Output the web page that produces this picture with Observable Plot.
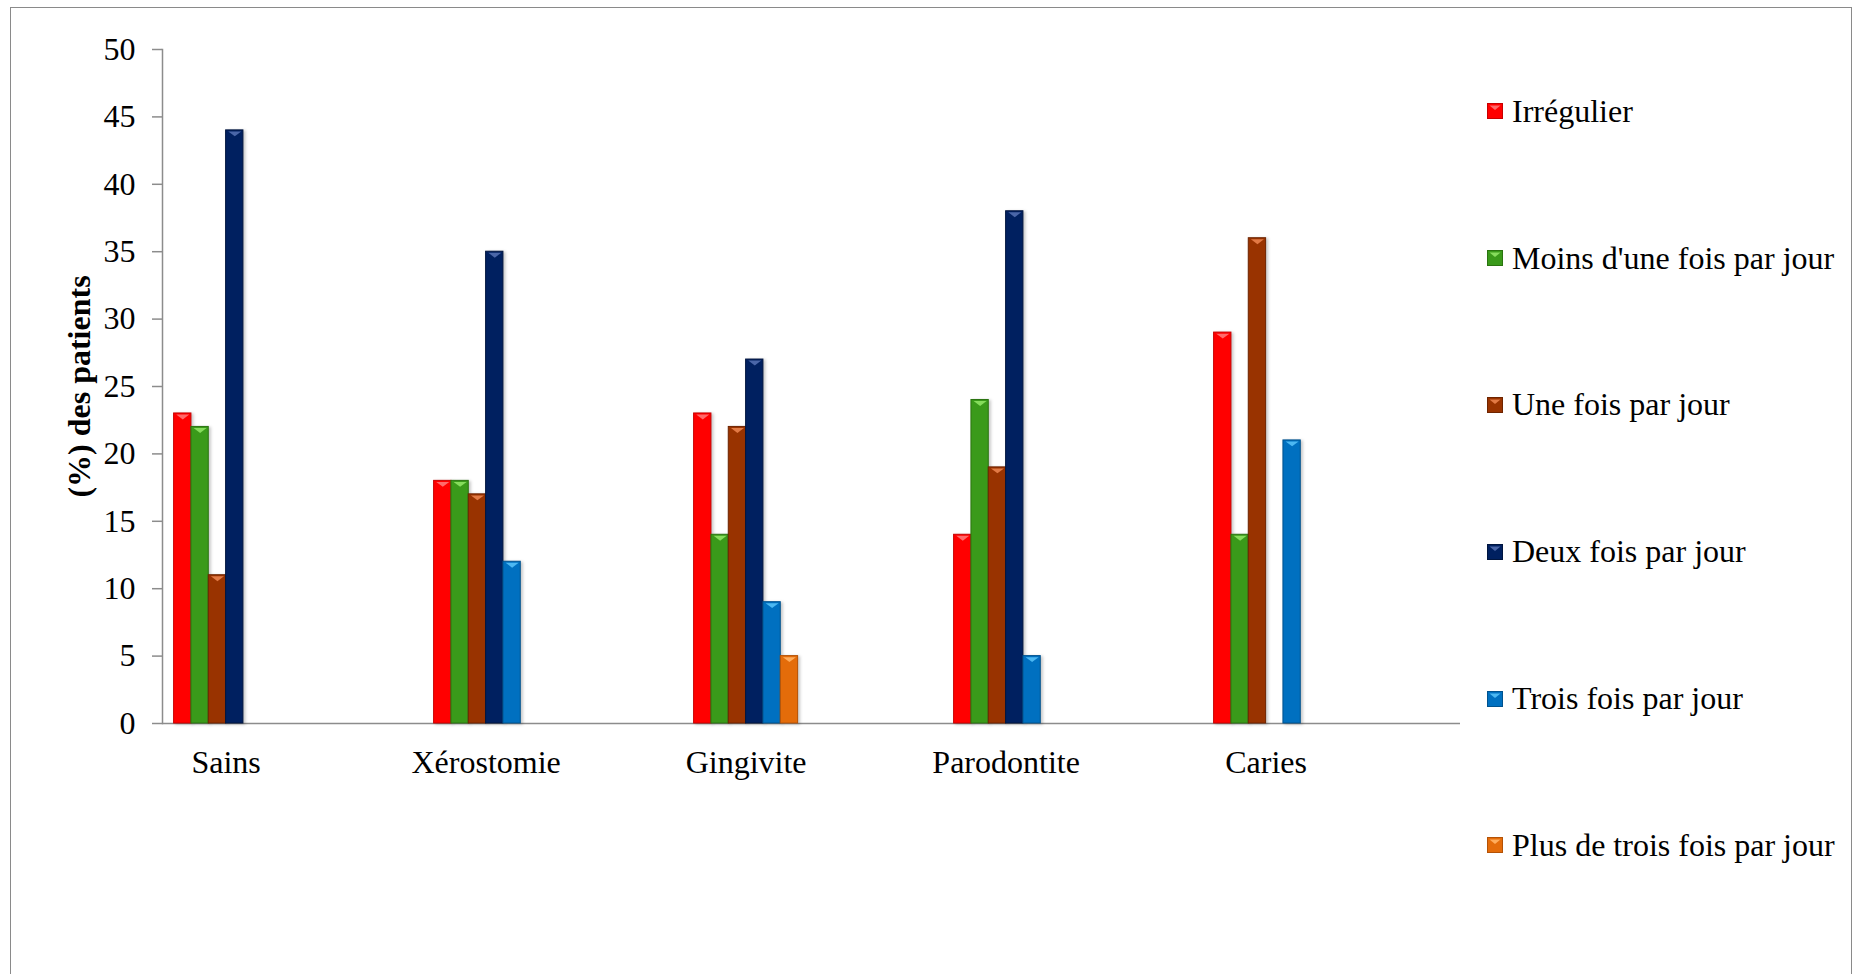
<!DOCTYPE html>
<html lang="fr">
<head>
<meta charset="utf-8">
<title>Fréquence de brossage selon l'état bucco-dentaire</title>
<script src="https://cdn.jsdelivr.net/npm/d3@7"></script>
<script src="https://cdn.jsdelivr.net/npm/@observablehq/plot@0.6"></script>
<style>
  html, body { margin: 0; padding: 0; background: #fff; width: 1852px; height: 974px; overflow: hidden; }
  body { position: relative; font-family: "Liberation Serif", "Times New Roman", serif; }
  .chart-border {
    position: absolute; left: 10px; top: 7px; width: 1842px; height: 1000px;
    box-sizing: border-box; border: 1.5px solid #8a8a8a;
  }
  #chart { position: absolute; left: 0; top: 0; }
  #chart g[aria-label="bar"] { filter: drop-shadow(2px 1px 1.5px rgba(0,0,0,0.22)); }
  .legend { position: absolute; left: 1487px; top: 38px; }
  .legend-item { height: 146.8px; display: flex; align-items: center; font-size: 32px; color: #000; white-space: nowrap; }
  .legend-item svg { margin-right: 9px; flex: none; }
</style>
</head>
<body>
<div class="chart-border"></div>
<div id="chart"></div>
<div class="legend" id="legend"></div>
<script>
// Catégories (état bucco-dentaire)
const categories = ["Sains", "Xérostomie", "Gingivite", "Parodontite", "Caries"];

// Fréquence de brossage (séries)
const seriesNames = [
  "Irrégulier",
  "Moins d'une fois par jour",
  "Une fois par jour",
  "Deux fois par jour",
  "Trois fois par jour",
  "Plus de trois fois par jour"
];

// Pourcentage des patients, une valeur par catégorie (null = pas de barre)
const irregulier     = [23, 18, 23, 14, 29];
const moinsUneFois   = [22, 18, 14, 24, 14];
const uneFois        = [11, 17, 22, 19, 36];
const deuxFois       = [44, 35, 27, 38, null];
const troisFois      = [null, 12, 9, 5, 21];
const plusDeTrois    = [null, null, 5, null, null];

// Graduations de l'axe vertical
const yTicks = [0, 5, 10, 15, 20, 25, 30, 35, 40, 45, 50];

const seriesValues = [irregulier, moinsUneFois, uneFois, deuxFois, troisFois, plusDeTrois];

// Couleurs : corps, arête, biseau supérieur
const fills  = ["#ff0000", "#3a9a1a", "#993300", "#002060", "#0070c0", "#e46c0a"];
const edges  = ["#c80000", "#2a7410", "#6e2400", "#00153f", "#00528e", "#b45206"];
const bevels = ["#ff6a6a", "#86dc5c", "#e27a45", "#4a66a8", "#4cb8f2", "#ffad5c"];

const rows = categories.flatMap((category, ci) =>
  seriesNames.map((series, si) => ({category, series, si, value: seriesValues[si][ci]}))
).filter(d => d.value != null);

// Largeur du groupe de barres dans chaque catégorie et d'une barre
const groupWidth = 104;
const slot = groupWidth / seriesNames.length;

// Petit triangle aplati pointant vers le bas (biseau du sommet des barres)
const bevelSymbol = {
  draw(context, size) {
    const r = Math.sqrt(size / Math.PI);
    const h = r * 0.75;
    context.moveTo(-r, -h / 2);
    context.lineTo(r, -h / 2);
    context.lineTo(0, h / 2);
    context.closePath();
  }
};

const axisGray = "#8c8c8c";
const fontSize = 32;

const barMarks = seriesNames.flatMap((name, si) => {
  const data = rows.filter(d => d.si === si);
  return [
    Plot.barY(data, {
      x: "category", y: "value",
      fill: fills[si], stroke: edges[si], strokeWidth: 1,
      insetLeft: si * slot, insetRight: (seriesNames.length - 1 - si) * slot
    }),
    Plot.dot(data, {
      x: "category", y: "value",
      dx: (si - (seriesNames.length - 1) / 2) * slot, dy: 3.5,
      symbol: bevelSymbol, r: 6.5, fill: bevels[si], stroke: "none"
    })
  ];
});

const chart = Plot.plot({
  width: 1480,
  height: 974,
  marginLeft: 162,
  marginRight: 20,
  marginTop: 49,
  marginBottom: 251,
  style: {
    fontFamily: "'Liberation Serif', 'Times New Roman', serif",
    fontSize: fontSize + "px",
    color: "#000",
    background: "transparent",
    overflow: "visible"
  },
  x: {
    domain: categories,
    range: [173.6, 173.6 + 4 * 260 + groupWidth],
    paddingInner: 0.6,
    paddingOuter: 0,
    round: false
  },
  y: {domain: [0, 50]},
  marks: [
    Plot.frame({anchor: "left", stroke: axisGray, strokeWidth: 1.5}),
    Plot.ruleY([0], {stroke: axisGray, strokeWidth: 1.5}),
    ...barMarks,
    Plot.axisY({
      ticks: yTicks, tickSize: 10, tickPadding: 17,
      stroke: axisGray, strokeWidth: 1.5, label: null, fontSize
    }),
    Plot.axisY({
      ticks: [], tickSize: 0, label: "(%) des patients",
      labelAnchor: "center", labelOffset: 95, labelArrow: "none",
      fontWeight: "bold", fontSize
    }),
    Plot.axisX({tickSize: 0, tickPadding: 27, label: null, fontSize})
  ]
});

document.getElementById("chart").appendChild(chart);

// Légende à droite du graphique
const legend = d3.select("#legend");
seriesNames.forEach((name, si) => {
  const item = legend.append("div").attr("class", "legend-item");
  const sw = item.append("svg").attr("width", 16).attr("height", 16);
  sw.append("rect").attr("x", 0.5).attr("y", 0.5).attr("width", 15).attr("height", 15)
    .attr("fill", fills[si]).attr("stroke", edges[si]);
  sw.append("path").attr("d", "M2.5,2.5 L13.5,2.5 L8,7 Z").attr("fill", bevels[si]);
  item.append("span").text(name);
});
</script>
</body>
</html>
